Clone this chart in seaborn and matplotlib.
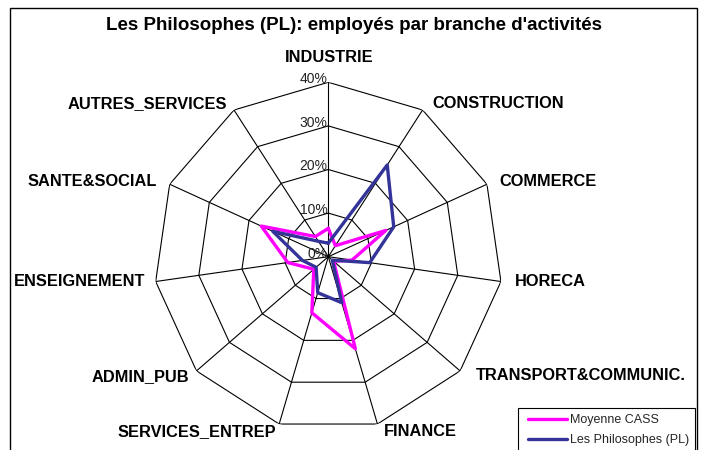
import numpy as np
import pandas as pd
import matplotlib
matplotlib.use("Agg")
import matplotlib.pyplot as plt
import seaborn as sns
from matplotlib.patches import Rectangle
from matplotlib.lines import Line2D

# ---------------- data ----------------
categories = ["INDUSTRIE", "CONSTRUCTION", "COMMERCE", "HORECA",
              "TRANSPORT&COMMUNIC.", "FINANCE", "SERVICES_ENTREP",
              "ADMIN_PUB", "ENSEIGNEMENT", "SANTE&SOCIAL", "AUTRES_SERVICES"]
moyenne_cass = [6.5, 3.0, 14.5, 5.5, 1.6, 22.0, 13.4, 4.4, 9.4, 16.9, 5.5]
philosophes = [3.1, 25.0, 16.5, 9.6, 1.2, 11.0, 8.6, 3.7, 6.0, 14.0, 4.2]
series_names = ["Moyenne CASS", "Les Philosophes (PL)"]
radial_ticks = [0, 10, 20, 30, 40]
radial_tick_labels = ["0%", "10%", "20%", "30%", "40%"]
title = "Les Philosophes (PL): employés par branche d'activités"

# ---------------- style ----------------
sns.set_theme(style="white")
plt.rcParams['font.family'] = ['Liberation Sans', 'DejaVu Sans']
colors = {"Moyenne CASS": "#FF00FF", "Les Philosophes (PL)": "#333399"}

W, H = 704, 450
fig = plt.figure(figsize=(W / 100, H / 100), dpi=100)
fig.patch.set_facecolor("white")

cx, cy, R = 328.3, 256.7, 174.4
ax = fig.add_axes([(cx - R) / W, (H - cy - R) / H, 2 * R / W, 2 * R / H],
                  projection='polar')
ax.set_theta_zero_location('N')
ax.set_theta_direction(-1)
ax.grid(False)
ax.spines['polar'].set_visible(False)
ax.patch.set_alpha(0)

n = len(categories)
theta = np.arange(n) * 2 * np.pi / n
theta_closed = np.append(theta, 2 * np.pi)

# polygon grid
for r in radial_ticks[1:]:
    ax.plot(theta_closed, [r] * (n + 1), color="black", lw=0.8, zorder=1)
for t in theta:
    ax.plot([t, t], [0, radial_ticks[-1]], color="black", lw=0.8, zorder=1)

# data
rows = []
for name, vals in zip(series_names, [moyenne_cass, philosophes]):
    vv = list(vals) + [vals[0]]
    for i, (t, v) in enumerate(zip(theta_closed, vv)):
        rows.append({"series": name, "theta": t, "value": v, "order": i})
df = pd.DataFrame(rows)
sns.lineplot(data=df, x="theta", y="value", hue="series", palette=colors,
             sort=False, estimator=None, lw=2.4, ax=ax, legend=False,
             zorder=3)

ax.set_ylim(0, radial_ticks[-1])
ax.set_xticks([])
ax.set_yticks([])
ax.set_xlabel("")
ax.set_ylabel("")

# radial tick labels along the top spoke
for r, lab in zip(radial_ticks, radial_tick_labels):
    ax.annotate(lab, xy=(0, r), xytext=(-1, 3), textcoords="offset pixels",
                ha="right", va="center", fontsize=10, color="#222222",
                zorder=2)

# category labels
label_pos = [(329, 58), (498, 104), (548, 182), (550, 282), (581, 376),
             (420, 432), (197, 432), (140, 377), (80, 282), (92, 182),
             (147, 104)]
for cat, (px, py) in zip(categories, label_pos):
    fig.text(px / W, 1 - py / H, cat, ha="center", va="center",
             fontsize=11.8, fontweight="bold", color="black")

fig.text(354 / W, 1 - 26 / H, title, ha="center", va="center",
         fontsize=13.5, fontweight="bold", color="black")

# legend
fig.patches.append(Rectangle((518 / W, (H - 470) / H), (695 - 518) / W,
                             62 / H, transform=fig.transFigure,
                             facecolor="white", edgecolor="black", lw=0.8,
                             zorder=4))
handles = [Line2D([0], [0], color=colors[s], lw=2.4) for s in series_names]
leg = fig.legend(handles, series_names, loc="upper left",
                 bbox_to_anchor=(523 / W, 1 - 409 / H),
                 bbox_transform=fig.transFigure, frameon=False, fontsize=9,
                 handlelength=3.1, handletextpad=0.25, labelspacing=0.68,
                 borderpad=0.4, borderaxespad=0)
leg.set_zorder(5)

# outer chart border
fig.patches.append(Rectangle((10 / W, -0.05), (697 - 10) / W,
                             (450 - 8) / H + 0.05, transform=fig.transFigure,
                             fill=False, edgecolor="black", lw=1.0, zorder=6))

fig.savefig("out.png", dpi=100)
